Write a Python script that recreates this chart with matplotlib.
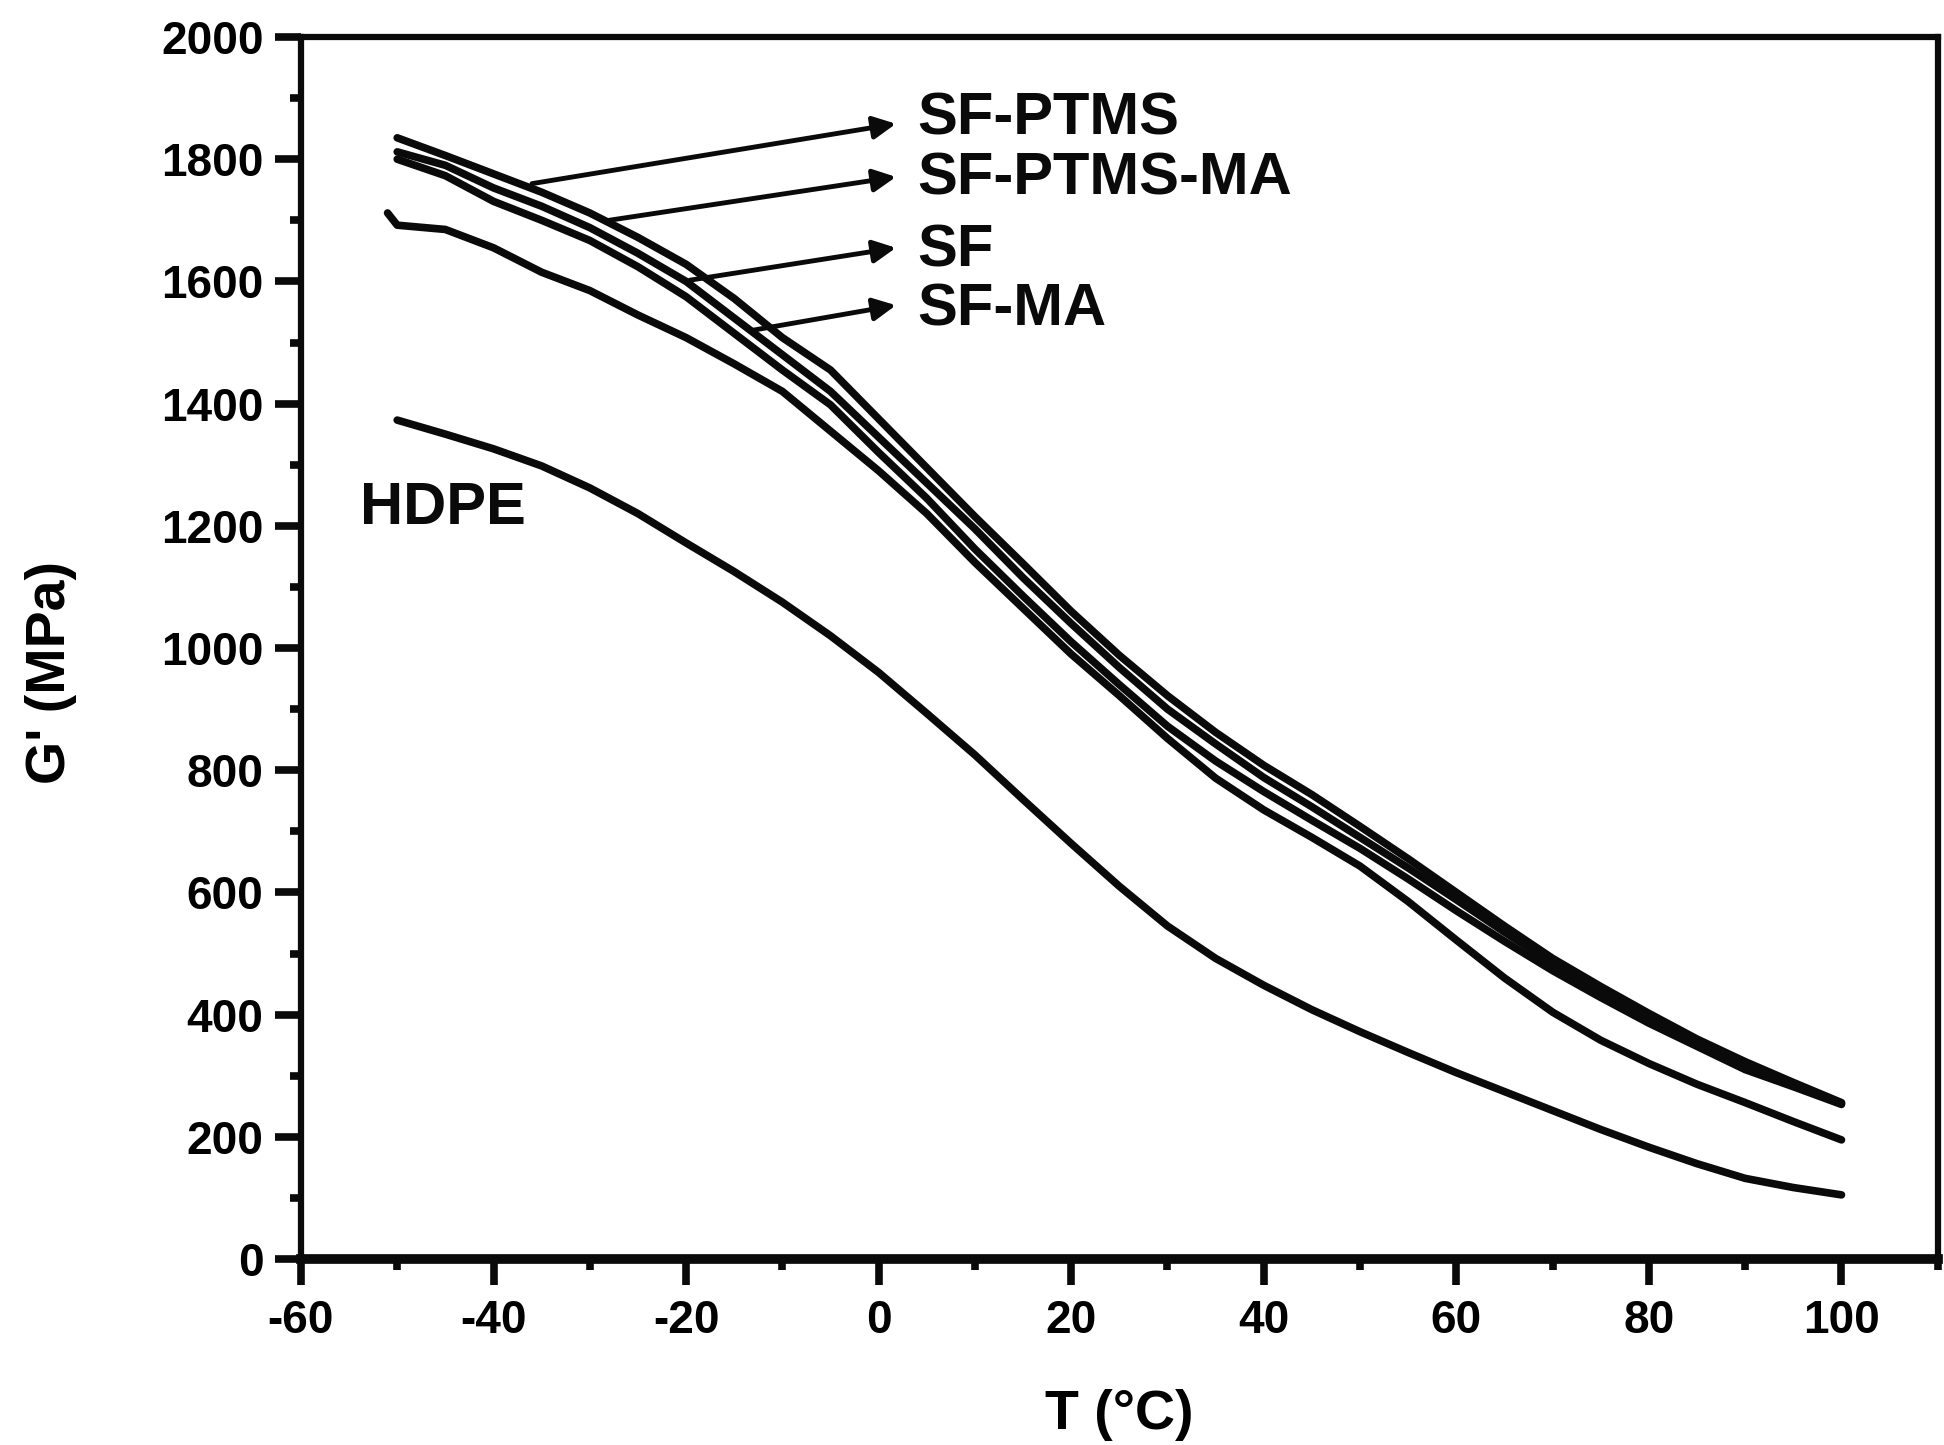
import matplotlib
matplotlib.use("Agg")
import matplotlib.pyplot as plt
from matplotlib import font_manager
from matplotlib.ticker import MultipleLocator

plt.rcParams["axes.unicode_minus"] = False

# ---------------- data ----------------
T = [-50, -45, -40, -35, -30, -25, -20, -15, -10, -5, 0, 5, 10, 15, 20, 25,
     30, 35, 40, 45, 50, 55, 60, 65, 70, 75, 80, 85, 90, 95, 100]

sf_ptms = [1835, 1806, 1776, 1746, 1712, 1672, 1628, 1572, 1508, 1455, 1375,
           1295, 1215, 1138, 1060, 988, 922, 862, 808, 760, 708, 655, 600,
           545, 492, 446, 402, 360, 323, 289, 256]
sf_ptms_ma = [1812, 1790, 1753, 1723, 1688, 1646, 1600, 1540, 1480, 1420, 1345,
              1270, 1195, 1115, 1040, 968, 900, 843, 788, 740, 690, 640, 588,
              535, 484, 438, 396, 356, 318, 286, 255]
sf = [1800, 1773, 1731, 1700, 1667, 1624, 1575, 1515, 1455, 1398, 1320,
      1245, 1162, 1085, 1010, 940, 872, 815, 765, 718, 672, 622, 570,
      520, 472, 428, 386, 348, 310, 282, 253]
T_sf_ma = [-51] + T
sf_ma = [1712, 1692, 1685, 1655, 1615, 1585, 1545, 1508, 1465, 1420, 1355,
         1290, 1220, 1140, 1065, 990, 922, 852, 787, 735, 690, 643, 585,
         522, 460, 404, 358, 320, 286, 256, 225, 195]
hdpe = [1373, 1350, 1326, 1298, 1262, 1220, 1172, 1125, 1075, 1020, 960,
        893, 825, 752, 680, 610, 545, 492, 448, 408, 372, 338, 305,
        274, 243, 212, 183, 156, 132, 117, 105]

labels = ["SF-PTMS", "SF-PTMS-MA", "SF", "SF-MA"]
label_y = [1866, 1767, 1650, 1553]
arrow_start = [(-36.0, 1760), (-28.0, 1700), (-19.6, 1602), (-13.1, 1520)]
arrow_end_x = 1.8
arrow_end_y = [1858, 1771, 1655, 1561]
label_x = 4.0
hdpe_label = ("HDPE", -53.9, 1228)

x_label = "T (°C)"
y_label = "G' (MPa)"

# ---------------- fonts ----------------
names = {f.name for f in font_manager.fontManager.ttflist}
if "Liberation Sans Narrow" in names:
    tick_font = ["Liberation Sans Narrow", "Liberation Sans", "DejaVu Sans"]
    tick_size = 41
else:
    tick_font = ["Liberation Sans", "DejaVu Sans"]
    tick_size = 33
main_font = ["Liberation Sans", "Arial", "DejaVu Sans"]

# ---------------- figure ----------------
fig = plt.figure(figsize=(19.44, 14.45), dpi=100)
ax = fig.add_axes([0.1548, 0.1287, 0.842, 0.8457])

lw = 5.5
col = "#0a0a0a"
for xs, ys in [(T, sf_ptms), (T, sf_ptms_ma), (T, sf), (T_sf_ma, sf_ma), (T, hdpe)]:
    ax.plot(xs, ys, color=col, lw=lw, solid_joinstyle="round",
            solid_capstyle="round")

for lab, ly, (sx, sy), ey in zip(labels, label_y, arrow_start, arrow_end_y):
    ax.annotate("", xy=(arrow_end_x, ey), xytext=(sx, sy),
                arrowprops=dict(arrowstyle="-|>", lw=3.5, color=col,
                                mutation_scale=34, shrinkA=0, shrinkB=0))
    ax.text(label_x, ly, lab, ha="left", va="center", fontsize=43,
            fontweight="bold", family=main_font, color=col)

ax.text(hdpe_label[1], hdpe_label[2], hdpe_label[0], ha="left", va="center",
        fontsize=43, fontweight="bold", family=main_font, color=col)

ax.set_xlim(-60, 110)
ax.set_ylim(0, 2000)
ax.xaxis.set_major_locator(MultipleLocator(20))
ax.xaxis.set_minor_locator(MultipleLocator(10))
ax.yaxis.set_major_locator(MultipleLocator(200))
ax.yaxis.set_minor_locator(MultipleLocator(100))

ax.tick_params(which="major", direction="out", length=19, width=5.5, pad=8,
               color=col, labelsize=tick_size)
ax.tick_params(which="minor", direction="out", length=8, width=5.5, color=col)
ax.tick_params(axis="x", which="major", pad=10)
for lab in ax.get_xticklabels() + ax.get_yticklabels():
    lab.set_family(tick_font)
    lab.set_fontweight("bold")

for side in ["left", "top", "right"]:
    ax.spines[side].set_linewidth(4.5)
    ax.spines[side].set_color(col)
ax.spines["bottom"].set_linewidth(7)
ax.spines["bottom"].set_color(col)

ax.set_xlabel(x_label, fontsize=40, fontweight="bold", family=main_font)
ax.set_ylabel(y_label, fontsize=40, fontweight="bold", family=main_font)
ax.xaxis.set_label_coords(0.5, -0.106)
ax.yaxis.set_label_coords(-0.137, 0.48)

fig.savefig("out.png", dpi=100, facecolor="white")
